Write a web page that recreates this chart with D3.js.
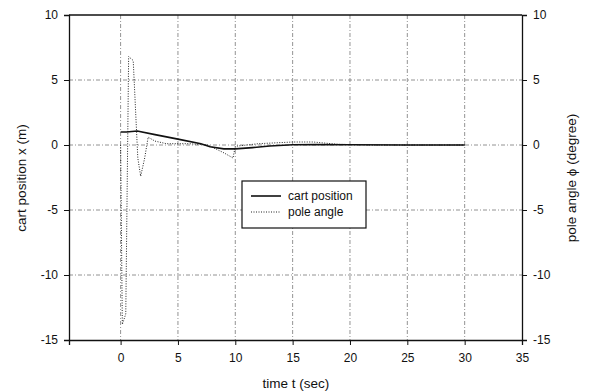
<!DOCTYPE html>
<html>
<head>
<meta charset="utf-8">
<script src="https://cdn.jsdelivr.net/npm/d3@7"></script>
<style>
  body { margin: 0; background: #fff; }
  text { font-family: "Liberation Sans", Arial, sans-serif; fill: #111; }
</style>
</head>
<body>
<svg width="589" height="392"></svg>
<script>
// values
const cartT   = [0, 0.5, 1.45, 3, 5, 7, 7.8, 9, 10, 11.5, 13, 15, 17, 20, 25, 30];
const cartX   = [1.0, 1.0, 1.08, 0.8, 0.45, 0.1, -0.13, -0.3, -0.3, -0.2, -0.08, 0.02, 0.03, 0.02, 0.0, 0.0];
const poleT   = [0, 0.15, 0.45, 0.7, 1.1, 1.5, 1.75, 2.1, 2.4, 3, 4, 6, 7.6, 9, 9.8, 10, 12, 15, 16.8, 19, 22, 30];
const poleA   = [0, -13.8, -13, 6.8, 6.5, -1, -2.4, -1, 0.6, 0.3, 0.1, 0.1, 0, -0.6, -1.0, -0.1, 0.1, 0.23, 0.23, 0.05, 0, 0];
const xTicks  = [0, 5, 10, 15, 20, 25, 30, 35];
const yTicks  = [-15, -10, -5, 0, 5, 10];

const svg = d3.select('svg');
const mL = 69, mR = 522, mT = 15, mB = 340;

const x = d3.scaleLinear().domain([-4.5, 35]).range([mL, mR]);
const y = d3.scaleLinear().domain([-15, 10]).range([mB, mT]);
const y2 = d3.scaleLinear().domain([-15, 10]).range([mB, mT]);

// grid (dash-dot, faint like the scan)
svg.append('g').selectAll('line').data(yTicks.filter(d => d > -15 && d < 10)).enter()
  .append('line')
  .attr('x1', mL).attr('x2', mR)
  .attr('y1', d => y(d)).attr('y2', d => y(d))
  .attr('stroke', '#777').attr('stroke-width', 0.8).attr('stroke-dasharray', '4,2,1,2');
svg.append('g').selectAll('line').data(xTicks.filter(d => d < 35)).enter()
  .append('line')
  .attr('x1', d => x(d)).attr('x2', d => x(d))
  .attr('y1', mT).attr('y2', mB)
  .attr('stroke', '#777').attr('stroke-width', 0.8).attr('stroke-dasharray', '4,2,1,2');

// axes, plain hyphen for negatives
const fmt = d => String(d);
const gL = svg.append('g').attr('transform', `translate(${mL},0)`)
  .call(d3.axisLeft(y).tickValues(yTicks).tickFormat(fmt).tickSize(5).tickPadding(6));
const gR = svg.append('g').attr('transform', `translate(${mR},0)`)
  .call(d3.axisRight(y2).tickValues(yTicks).tickFormat(fmt).tickSize(5).tickPadding(6));
const gB = svg.append('g').attr('transform', `translate(0,${mB})`)
  .call(d3.axisBottom(x).tickValues(xTicks).tickFormat(fmt).tickSize(5).tickPadding(8));
[gL, gR, gB].forEach(g => {
  g.select('.domain').attr('stroke', '#111').attr('stroke-width', 1.3);
  g.selectAll('.tick line').attr('stroke', '#111');
  g.selectAll('text').style('font-size', '12px').style('font-family', '"Liberation Sans", Arial, sans-serif').attr('fill', '#111');
});
// top frame
svg.append('line').attr('x1', mL).attr('x2', mR).attr('y1', mT).attr('y2', mT)
  .attr('stroke', '#111').attr('stroke-width', 1.3);

// lines
const cart = cartT.map((t, i) => [t, cartX[i]]);
const pole = poleT.map((t, i) => [t, poleA[i]]);
svg.append('path').datum(pole)
  .attr('d', d3.line().x(d => x(d[0])).y(d => y2(d[1])))
  .attr('fill', 'none').attr('stroke', '#222').attr('stroke-width', 1).attr('stroke-dasharray', '1,1.5');
svg.append('path').datum(cart)
  .attr('d', d3.line().x(d => x(d[0])).y(d => y(d[1])))
  .attr('fill', 'none').attr('stroke', '#111').attr('stroke-width', 1.6);

// legend
const lg = svg.append('g');
lg.append('rect').attr('x', 242).attr('y', 181).attr('width', 124).attr('height', 47)
  .attr('fill', '#fff').attr('stroke', '#111').attr('stroke-width', 1.2);
lg.append('line').attr('x1', 251).attr('x2', 281).attr('y1', 196).attr('y2', 196)
  .attr('stroke', '#111').attr('stroke-width', 1.6);
lg.append('line').attr('x1', 251).attr('x2', 281).attr('y1', 212).attr('y2', 212)
  .attr('stroke', '#222').attr('stroke-width', 1).attr('stroke-dasharray', '1,1.5');
lg.append('text').attr('x', 288).attr('y', 200).style('font-size', '12px').text('cart position');
lg.append('text').attr('x', 288).attr('y', 216).style('font-size', '12px').text('pole angle');

// axis titles
svg.append('text').attr('transform', 'translate(26,178) rotate(-90)')
  .attr('text-anchor', 'middle').style('font-size', '13.5px').text('cart position x (m)');
svg.append('text').attr('transform', 'translate(576,178) rotate(-90)')
  .attr('text-anchor', 'middle').style('font-size', '13.5px').text('pole angle ϕ (degree)');
svg.append('text').attr('x', 296).attr('y', 388)
  .attr('text-anchor', 'middle').style('font-size', '13.5px').text('time t (sec)');
</script>
</body>
</html>
